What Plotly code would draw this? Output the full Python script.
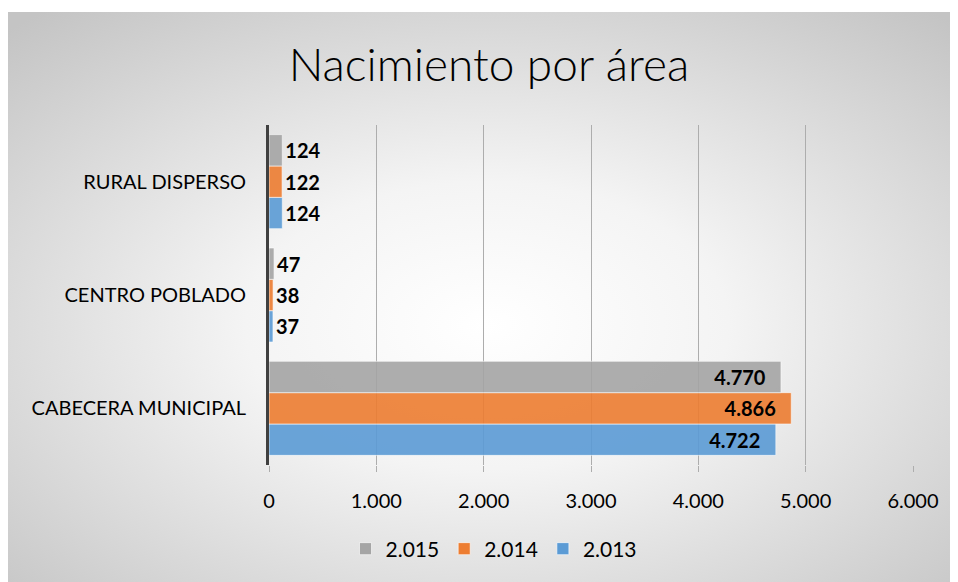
import base64
import plotly.graph_objects as go

categories = ["CABECERA MUNICIPAL", "CENTRO POBLADO", "RURAL DISPERSO"]
years = ["2.013", "2.014", "2.015"]
values_2013 = [4722, 37, 124]
values_2014 = [4866, 38, 122]
values_2015 = [4770, 47, 124]
x_ticks = [0, 1000, 2000, 3000, 4000, 5000, 6000]

COLORS = {"2.013": "#5B9BD5", "2.014": "#ED7D31", "2.015": "#A5A5A5"}
FONT = "Lato, 'Open Sans', sans-serif"

W, H = 958, 574
M = dict(l=261, r=53, t=117, b=117)
pw = W - M["l"] - M["r"]
ph = H - M["t"] - M["b"]

# radial gradient backdrop, like the Office chart style
svg = (
    '<svg xmlns="http://www.w3.org/2000/svg" width="958" height="570">'
    '<defs><radialGradient id="g" cx="50%" cy="55%" r="72%">'
    '<stop offset="0" stop-color="#ffffff"/>'
    '<stop offset="0.35" stop-color="#f4f4f4"/>'
    '<stop offset="1" stop-color="#c4c4c4"/>'
    '</radialGradient></defs>'
    '<rect width="958" height="570" fill="url(#g)"/></svg>'
)
bg_src = "data:image/svg+xml;base64," + base64.b64encode(svg.encode()).decode()

fig = go.Figure()
for year, vals in zip(years, [values_2013, values_2014, values_2015]):
    fig.add_trace(go.Bar(
        y=categories,
        x=vals,
        name=year,
        orientation="h",
        marker=dict(color=COLORS[year], opacity=0.9,
                    line=dict(color="rgba(255,255,255,0.6)", width=1)),
        # trailing spacing keeps inside labels off the bar end
        texttemplate="%{x:,}\u2002\u2009",
        textposition="auto",
        insidetextanchor="end",
        textfont=dict(family=FONT, size=20, color="#000000", weight="bold"),
        outsidetextfont=dict(family=FONT, size=20, color="#000000", weight="bold"),
        insidetextfont=dict(family=FONT, size=20, color="#000000", weight="bold"),
        cliponaxis=False,
    ))

fig.add_layout_image(
    source=bg_src,
    xref="paper", yref="paper",
    x=-M["l"] / pw, y=(H - M["b"] - 4) / ph,
    sizex=958 / pw, sizey=570 / ph,
    xanchor="left", yanchor="top",
    sizing="stretch", layer="below",
)

fig.update_layout(
    width=W, height=H,
    margin=M,
    separators=",.",
    barmode="group",
    bargap=0.17,
    bargroupgap=0,
    paper_bgcolor="#ffffff",
    plot_bgcolor="rgba(0,0,0,0)",
    font=dict(family=FONT, size=20, color="#000000"),
    title=dict(text="Nacimiento por área", x=0.502, xanchor="center",
               y=1 - 57 / H, yanchor="middle",
               font=dict(family=FONT, size=46, color="#000000", weight=300)),
    xaxis=dict(
        range=[0, 6000],
        tickvals=x_ticks,
        tickformat=",",
        showgrid=True,
        gridcolor="#adadad",
        gridwidth=1,
        ticks="outside",
        ticklen=6,
        tickcolor="#adadad",
        zeroline=False,
        showline=False,
        tickfont=dict(size=20, color="#000000"),
        ticklabelstandoff=12,
        fixedrange=True,
    ),
    yaxis=dict(
        categoryorder="array",
        categoryarray=categories,
        showgrid=False,
        zeroline=False,
        showline=True,
        linecolor="#404040",
        linewidth=3,
        ticks="",
        ticklabelstandoff=16,
        tickfont=dict(size=20, color="#000000"),
        fixedrange=True,
    ),
    legend=dict(
        orientation="h",
        traceorder="reversed",
        x=(486 - M["l"]) / pw, xanchor="center",
        y=-84 / ph, yanchor="middle",
        bgcolor="rgba(0,0,0,0)",
        font=dict(size=21, color="#000000"),
        itemwidth=30,
    ),
    showlegend=True,
)

fig.write_html("out.html")
